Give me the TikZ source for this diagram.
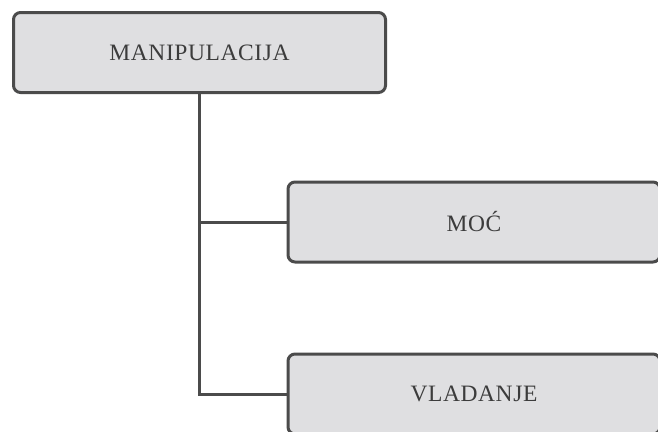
\documentclass[tikz,border=0pt]{standalone}
\usepackage{fontspec}
\setmainfont{Liberation Serif}[LetterSpace=2.5]
\usepackage{tikz}
\usetikzlibrary{positioning}
\definecolor{boxfill}{HTML}{DFDFE1}
\definecolor{boxline}{HTML}{4B4B4B}
\definecolor{boxtext}{HTML}{3C3C3C}

\begin{document}
\begin{tikzpicture} [line width=3pt, box/.style = {draw=boxline, fill=boxfill, rounded corners=7pt, minimum width=372pt, minimum height=80pt, text=boxtext, font=\fontsize{23.5}{28}\selectfont}]
        \useasboundingbox (0pt,0pt) rectangle (658pt,-431pt);

        %Boxen
        \node[box] (manip) at (199.5pt,-52.5pt) {MANIPULACIJA};

        \path (manip.south) ++(0pt,-128pt) coordinate (b1);
        \path (b1) ++(0pt,-172pt) coordinate (b2);

        \node[box] (moc) [right = 87pt of b1] {MOĆ};
        \node[box] (vlad) [right = 87pt of b2] {VLADANJE};

        %Linien
        \draw[boxline] (manip) -- (b2) -- (vlad);
        \draw[boxline] (b1) -- (moc);

    \end{tikzpicture}
\end{document}
